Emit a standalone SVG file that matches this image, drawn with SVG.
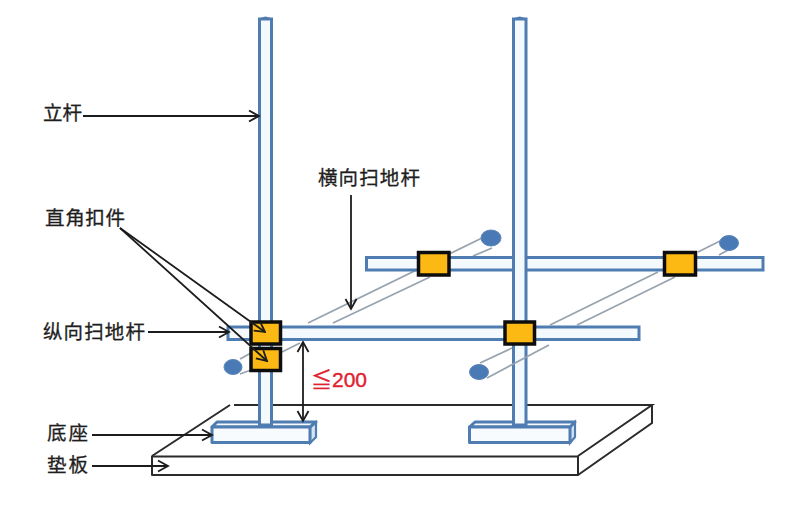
<svg xmlns="http://www.w3.org/2000/svg" width="787" height="509" viewBox="0 0 787 509">
<style>
.rod{fill:#f4f9fd;stroke:#4f7db2;stroke-width:3}
.cap{fill:#4f7db2}
.base{fill:#f8fbfe;stroke:#4f7db2;stroke-width:3;stroke-linejoin:round}
.face{fill:#d5e4f3;stroke:#4f7db2;stroke-width:2.200}
.clamp{fill:#fdb913;stroke:#0d0d0d;stroke-width:3.500}
.ball{fill:#4a7ab5;stroke:#5b86ba;stroke-width:1}
.tube{fill:none;stroke:#98a3ae;stroke-width:1.800}
.plate{fill:#fff;stroke:#2b2b2b;stroke-width:2;stroke-linejoin:round}
.plateline{fill:none;stroke:#2b2b2b;stroke-width:2}
.lead{fill:none;stroke:#1c1c1c;stroke-width:1.800}
.label{font-family:"Noto Sans CJK SC","Noto Sans",sans-serif;font-size:19.500px;fill:#1e1e1e;stroke:#1e1e1e;stroke-width:.3}
.dim{font-family:"Liberation Sans","Noto Sans CJK SC",sans-serif;font-size:21px;fill:#e0222e;stroke:#e0222e;stroke-width:.4}
</style>
<defs>
<marker id="arrow" viewBox="0 0 14 14" refX="12.500" refY="7" markerWidth="14" markerHeight="14" markerUnits="userSpaceOnUse" orient="auto-start-reverse">
<path d="M2.500 1.500L12.500 7L2.500 12.500" fill="none" stroke="#1c1c1c" stroke-width="1.800"/>
</marker>
</defs>
<rect width="787" height="509" fill="#fff"/>
<g id="plate">
<path class="plateline" d="M234 405H652L578 456M652 405V423L578 475M152 456L230 405"/>
<rect class="plate" x="152" y="456.500" width="426" height="18.500"/>
</g>
<g id="tubes">
<path class="tube" d="M482 238L308 323M492 248L473 256M430 277L333 323"/>
<path class="tube" d="M720 241L698 252M658 272L550 325M728 250L719 255M675 277L577 325"/>
<path class="tube" d="M480 363L512 348"/>
<path class="tube" d="M240 359L251 353M282 352L300 343M240 374L251 370"/>
</g>
<g id="rear-bar"><rect class="rod" x="366.500" y="257.500" width="396.500" height="12.500"/></g>
<g id="base-left">
<path class="face" d="M310 427L316 422V437L310 443Z"/>
<path class="base" d="M212 427L217 422H316L310 427Z"/>
<rect class="base" x="212" y="427" width="98" height="15.500"/>
</g>
<g id="base-right">
<path class="face" d="M570 427L575 422V437L570 443Z"/>
<path class="base" d="M469.500 427L475 422H575L570 427Z"/>
<rect class="base" x="469.500" y="427" width="100.500" height="15.500"/>
</g>
<g id="post-left"><path class="rod" d="M259.500 425V19H271.500V425Z"/><path class="cap" d="M258 20Q265.500 13 273 20Z"/></g>
<g id="post-right"><path class="rod" d="M513.500 425V19H526V425Z"/><path class="cap" d="M512 20Q519.700 13 527.500 20Z"/></g>
<path class="tube" d="M487 378L549 345"/>
<g id="front-bar"><rect class="rod" x="228" y="327" width="411" height="12.500"/></g>
<g id="balls">
<ellipse class="ball" cx="491" cy="238" rx="10" ry="8"/>
<ellipse class="ball" cx="729" cy="243" rx="9.500" ry="7.500"/>
<ellipse class="ball" cx="479" cy="372" rx="9.500" ry="7.500"/>
<ellipse class="ball" cx="233" cy="367" rx="9" ry="7.500"/>
</g>
<g id="clamps">
<rect class="clamp" x="418.500" y="252.500" width="30.500" height="22.500"/>
<rect class="clamp" x="664.500" y="252.500" width="31" height="22.500"/>
<rect class="clamp" x="505" y="322" width="29.500" height="22"/>
<rect class="clamp" x="251" y="322" width="29.500" height="22"/>
<rect class="clamp" x="251" y="348.500" width="29.500" height="22"/>
</g>
<g id="connectors">
<path class="lead" d="M83 116H259" marker-end="url(#arrow)"/>
<path class="lead" d="M120 228L265 332" marker-end="url(#arrow)"/>
<path class="lead" d="M120 228L267 361" marker-end="url(#arrow)"/>
<path class="lead" d="M148 332H229" marker-end="url(#arrow)"/>
<path class="lead" d="M351 195V309" marker-end="url(#arrow)"/>
<path class="lead" d="M303 342V421" marker-start="url(#arrow)" marker-end="url(#arrow)"/>
<path class="lead" d="M92 435H212" marker-end="url(#arrow)"/>
<path class="lead" d="M92 466H168" marker-end="url(#arrow)"/>
</g>
<g id="labels">
<text class="label" x="43" y="120">立杆</text>
<text class="label" x="318" y="185" textLength="102">横向扫地杆</text>
<text class="label" x="45" y="225" textLength="80">直角扣件</text>
<text class="label" x="43" y="339" textLength="102">纵向扫地杆</text>
<text class="label" x="47" y="440" textLength="41">底座</text>
<text class="label" x="47" y="472" textLength="41">垫板</text>
<text class="dim" x="311" y="387">≦200</text>
</g>
</svg>
